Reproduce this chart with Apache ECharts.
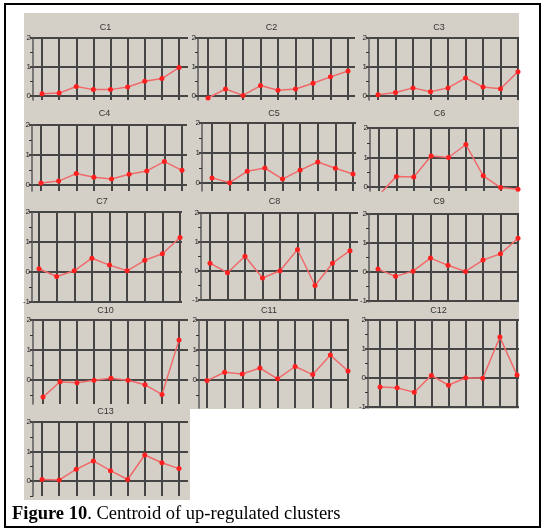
<!DOCTYPE html>
<html>
<head>
<meta charset="utf-8">
<script src="https://cdn.jsdelivr.net/npm/echarts@6/dist/echarts.min.js"></script>
<style>
  html, body { margin: 0; padding: 0; background: #fff; }
  #chart { width: 543px; height: 531px; }
</style>
</head>
<body>
<div id="chart"></div>
<script>
// cluster names and the 9 time points
var clusters = ['C1', 'C2', 'C3', 'C4', 'C5', 'C6', 'C7', 'C8', 'C9', 'C10', 'C11', 'C12', 'C13'];
var timePoints = [1, 2, 3, 4, 5, 6, 7, 8, 9];

// centroid values
var c1 = [0.08, 0.10, 0.33, 0.22, 0.22, 0.31, 0.51, 0.60, 0.98];
var c2 = [-0.07, 0.24, 0.02, 0.36, 0.20, 0.24, 0.44, 0.66, 0.86];
var c3 = [0.04, 0.12, 0.28, 0.15, 0.28, 0.62, 0.31, 0.25, 0.84];
var c4 = [0.07, 0.13, 0.38, 0.26, 0.20, 0.36, 0.47, 0.78, 0.49];
var c5 = [0.17, 0.01, 0.39, 0.50, 0.13, 0.43, 0.70, 0.49, 0.30];
var c6 = [-0.27, 0.36, 0.34, 1.05, 1.00, 1.44, 0.38, -0.02, -0.08];
var c7 = [0.11, -0.15, 0.04, 0.46, 0.23, 0.04, 0.39, 0.61, 1.15];
var c8 = [0.27, -0.06, 0.51, -0.24, 0.01, 0.74, -0.50, 0.27, 0.70];
var c9 = [0.10, -0.15, 0.03, 0.48, 0.23, 0.02, 0.41, 0.63, 1.16];
var c10 = [-0.57, -0.06, -0.09, -0.01, 0.06, -0.01, -0.16, -0.48, 1.33];
var c11 = [-0.02, 0.26, 0.20, 0.40, 0.04, 0.45, 0.18, 0.83, 0.30];
var c12 = [-0.31, -0.34, -0.49, 0.09, -0.25, 0.01, -0.01, 1.41, 0.10];
var c13 = [0.05, 0.03, 0.40, 0.68, 0.35, 0.05, 0.88, 0.62, 0.42];
var values = [c1, c2, c3, c4, c5, c6, c7, c8, c9, c10, c11, c12, c13];

// y tick labels (integers) and the small half-unit marks
var yTickLabels = [-1, 0, 1, 2];
var yHalfTicks = [-0.5, 0.5, 1.5];

// layout (px): x -> [axis line, first vertical, last vertical, right end]
var colLayout = [
  [33, 42, 179, 188], [198, 208, 348, 355], [369, 378, 518, 519],
  [32, 41, 182, 187], [202, 212, 353, 356], [370, 379, 518, 519],
  [32, 39, 180, 182], [201, 210, 350, 358], [369, 378, 518, 519],
  [33, 43, 179, 188], [199, 207, 348, 349], [368, 380, 517, 519],
  [33, 42, 179, 188]
];
// y -> [title, value 2, value 0, bottom]
var rowLayout = [
  [24, 38, 96, 100], [24, 38, 96, 100], [24, 38, 96, 100],
  [110, 125, 185, 191], [110, 123, 183, 191], [110, 128, 187, 191],
  [198, 212, 272, 302], [198, 213, 271, 300], [198, 214, 272, 302],
  [307, 320, 380, 404], [307, 320, 380, 408], [307, 320, 378, 408],
  [408, 422, 481, 496]
];

var gridColor = '#454545';
var grids = [], xAxes = [], yAxes = [], series = [], titles = [];

clusters.forEach(function (name, i) {
  var col = colLayout[i], row = rowLayout[i];
  var step = (col[2] - col[1]) / 8;
  var unit = (row[2] - row[1]) / 2;
  var yMin = -(row[3] - row[2]) / unit;
  var labs = yTickLabels.filter(function (v) { return v >= yMin - 0.01; });
  var halves = yHalfTicks.filter(function (v) { return v > yMin; });

  grids.push({ left: col[0], top: row[1], width: col[3] - col[0], height: row[3] - row[1] });
  titles.push({
    text: name, left: (col[0] + col[3]) / 2 - 10, top: row[0] - 6, textAlign: 'center',
    textStyle: { fontSize: 9, fontWeight: 'normal', color: '#333', fontFamily: 'Liberation Sans' }
  });
  xAxes.push({
    type: 'value', gridIndex: i,
    min: 1 - (col[1] - col[0]) / step, max: 9 + (col[3] - col[2]) / step,
    axisLine: { show: false }, axisLabel: { show: false },
    axisTick: { show: false, customValues: timePoints },
    splitLine: { show: true, lineStyle: { color: gridColor, width: 2 } }
  });
  yAxes.push({
    type: 'value', gridIndex: i, min: yMin, max: 2,
    axisLine: { show: true, lineStyle: { color: '#5a5a5a', width: 1.5 } },
    axisTick: { show: true, length: 3, customValues: labs, lineStyle: { color: gridColor, width: 2 } },
    axisLabel: { customValues: labs, fontSize: 8, color: '#222', margin: 2, fontFamily: 'Liberation Sans' },
    splitLine: { show: true, lineStyle: { color: gridColor, width: 2 } }
  });
  yAxes.push({
    type: 'value', gridIndex: i, min: yMin, max: 2, position: 'left',
    axisLine: { show: false }, axisLabel: { show: false }, splitLine: { show: false },
    axisTick: { show: true, length: 3, customValues: halves, lineStyle: { color: '#333', width: 1 } }
  });
  series.push({
    type: 'line', xAxisIndex: i, yAxisIndex: 2 * i,
    data: timePoints.map(function (t, k) { return [t, values[i][k]]; }),
    symbol: 'circle', symbolSize: 5,
    itemStyle: { color: '#ff1f1f' },
    lineStyle: { color: '#f06a6a', width: 1.5 },
    animation: false
  });
});

titles.push({
  text: '{b|Figure 10}. Centroid of up-regulated clusters',
  left: 7, top: 500,
  textStyle: {
    fontSize: 18.5, fontWeight: 'normal', color: '#000', fontFamily: 'Liberation Serif',
    rich: { b: { fontSize: 18.5, fontWeight: 'bold', color: '#000', fontFamily: 'Liberation Serif' } }
  }
});

var chart = echarts.init(document.getElementById('chart'));
chart.setOption({
  backgroundColor: '#fff',
  animation: false,
  graphic: [
    { type: 'rect', shape: { x: 24, y: 13, width: 495, height: 396 }, style: { fill: '#d4d0c8' }, z: -10 },
    { type: 'rect', shape: { x: 24, y: 404, width: 166, height: 96 }, style: { fill: '#d4d0c8' }, z: -10 },
    { type: 'rect', shape: { x: 5, y: 4, width: 535, height: 523 }, style: { fill: 'none', stroke: '#000', lineWidth: 2 }, z: 10 }
  ],
  title: titles,
  grid: grids,
  xAxis: xAxes,
  yAxis: yAxes,
  series: series
});
</script>
</body>
</html>
